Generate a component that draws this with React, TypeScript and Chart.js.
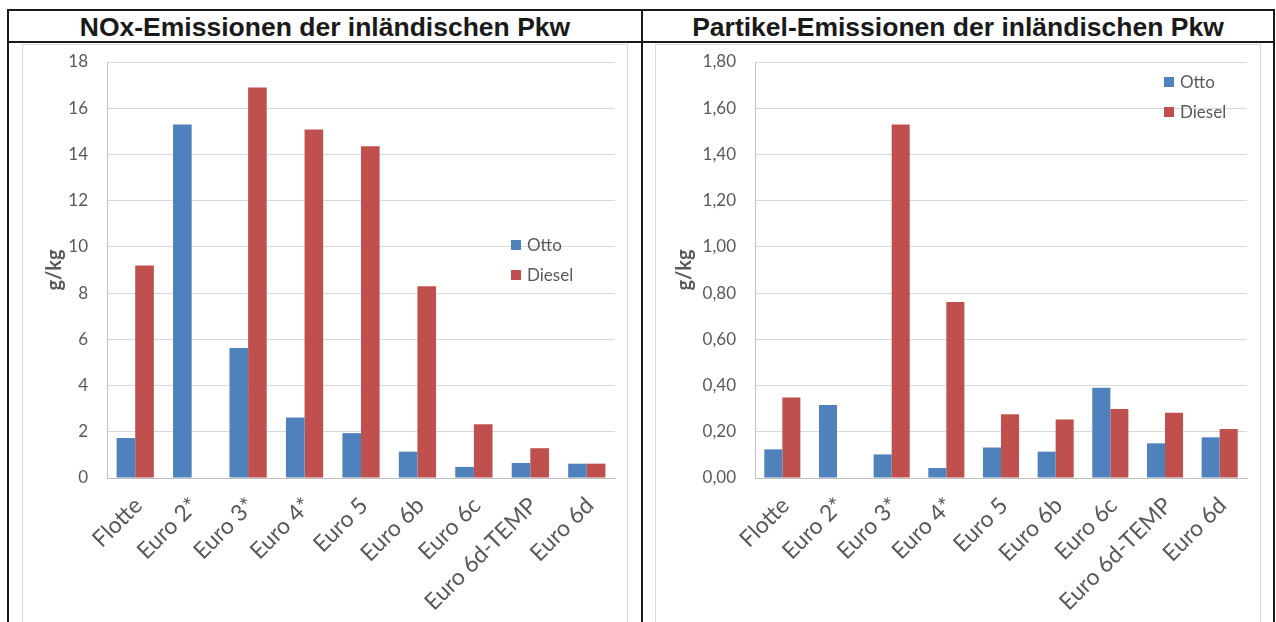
import React, { useEffect, useRef } from "react";
import { Chart, registerables } from "chart.js";

Chart.register(...registerables);

// ---------- data ----------
const categories = [
  "Flotte",
  "Euro 2*",
  "Euro 3*",
  "Euro 4*",
  "Euro 5",
  "Euro 6b",
  "Euro 6c",
  "Euro 6d-TEMP",
  "Euro 6d",
];
const seriesNames = ["Otto", "Diesel"];

const noxOtto = [1.73, 15.3, 5.62, 2.62, 1.94, 1.14, 0.48, 0.65, 0.62];
const noxDiesel = [9.2, null, 16.9, 15.08, 14.35, 8.3, 2.33, 1.29, 0.62];

const pmOtto = [0.124, 0.316, 0.102, 0.043, 0.132, 0.114, 0.391, 0.15, 0.176];
const pmDiesel = [0.348, null, 1.53, 0.761, 0.276, 0.253, 0.299, 0.282, 0.212];

const noxAxis = { max: 18, step: 2, decimals: 0 };
const pmAxis = { max: 1.8, step: 0.2, decimals: 2 };

const titles = [
  "NOx-Emissionen der inländischen Pkw",
  "Partikel-Emissionen der inländischen Pkw",
];
const unitLabel = "g/kg";

// ---------- styling ----------
const OTTO = "#4F81BD";
const DIESEL = "#C0504D";
const TEXT = "#595959";
const GRID = "#D9D9D9";
const AXIS = "#BFBFBF";
const FONT = "Lato, 'Open Sans', sans-serif";

const insideLegend = {
  id: "insideLegend",
  afterDraw(chart: any, _args: any, opts: any) {
    const ctx = chart.ctx;
    ctx.save();
    ctx.font = `${opts.size}px ${FONT}`;
    ctx.textBaseline = "middle";
    ctx.textAlign = "left";
    chart.data.datasets.forEach((ds: any, i: number) => {
      const y = opts.y + i * opts.gap;
      ctx.fillStyle = ds.backgroundColor;
      ctx.fillRect(opts.x, y, opts.box, opts.box);
      ctx.fillStyle = TEXT;
      ctx.fillText(ds.label, opts.x + opts.box + opts.spacing, y + opts.box / 2 + 1);
    });
    ctx.restore();
  },
};

type PanelProps = {
  otto: (number | null)[];
  diesel: (number | null)[];
  axis: { max: number; step: number; decimals: number };
  yWidth: number;
  padRight: number;
  titlePad: number;
  legend: { x: number; y: number };
};

const CW = 604;
const CH = 577;

function Panel(p: PanelProps) {
  const ref = useRef<HTMLCanvasElement | null>(null);
  useEffect(() => {
    if (!ref.current) return;
    const chart = new Chart(ref.current, {
      type: "bar",
      data: {
        labels: categories,
        datasets: [
          {
            label: seriesNames[0],
            data: p.otto,
            backgroundColor: OTTO,
            categoryPercentage: 0.66,
            barPercentage: 1.0,
          },
          {
            label: seriesNames[1],
            data: p.diesel,
            backgroundColor: DIESEL,
            categoryPercentage: 0.66,
            barPercentage: 1.0,
          },
        ] as any,
      },
      options: {
        animation: false,
        responsive: false,
        devicePixelRatio: 1,
        layout: { padding: { top: 17, right: p.padRight, left: 0, bottom: 0 } },
        plugins: {
          legend: { display: false },
          tooltip: { enabled: false },
          insideLegend: { x: p.legend.x, y: p.legend.y, gap: 30, box: 10, spacing: 6, size: 17 },
        } as any,
        scales: {
          x: {
            grid: { display: false, drawTicks: false },
            border: { display: true, color: AXIS, width: 1 },
            ticks: {
              color: TEXT,
              font: { family: FONT, size: 23 },
              maxRotation: 45,
              minRotation: 45,
              padding: 14,
              labelOffset: 3,
              autoSkip: false,
            },
            afterFit: (s: any) => {
              s.height = CH - 433;
            },
          },
          y: {
            min: 0,
            max: p.axis.max,
            grid: { color: GRID, lineWidth: 1, drawTicks: false },
            border: { display: true, color: AXIS, width: 1 },
            ticks: {
              stepSize: p.axis.step,
              color: TEXT,
              padding: 19,
              font: { family: FONT, size: 17 },
              callback: (v: any) => Number(v).toFixed(p.axis.decimals).replace(".", ","),
            },
            title: {
              display: true,
              text: unitLabel,
              color: TEXT,
              font: { family: FONT, size: 20, weight: "bold" },
              padding: { top: p.titlePad, bottom: 0 },
            },
            afterFit: (s: any) => {
              s.width = p.yWidth;
              s.paddingTop = 0;
              s.paddingBottom = 0;
            },
          },
        },
      },
      plugins: [insideLegend as any],
    });
    return () => chart.destroy();
  }, []);
  return <canvas ref={ref} width={CW} height={CH} style={{ display: "block" }} />;
}

const line = (l: number, t: number, w: number, h: number) => (
  <div style={{ position: "absolute", left: l, top: t, width: w, height: h, background: "#1a1a1a" }} />
);

const titleStyle = (l: number, w: number): React.CSSProperties => ({
  position: "absolute",
  left: l,
  top: 12,
  width: w,
  height: 30,
  display: "flex",
  alignItems: "center",
  justifyContent: "center",
  fontFamily: "'Liberation Sans', Arial, sans-serif",
  fontWeight: "bold",
  fontSize: 26.5,
  color: "#1a1a1a",
  whiteSpace: "nowrap",
});

const boxStyle = (l: number): React.CSSProperties => ({
  position: "absolute",
  left: l,
  top: 44,
  width: 606,
  height: 600,
  border: "1px solid #D9D9D9",
  boxSizing: "border-box",
  background: "#fff",
});

export default function App() {
  return (
    <div
      style={{
        position: "absolute",
        left: 0,
        top: 0,
        width: 1276,
        height: 622,
        overflow: "hidden",
        background: "#fff",
      }}
    >
      <div style={titleStyle(9, 632)}>{titles[0]}</div>
      <div style={titleStyle(643, 630)}>{titles[1]}</div>
      <div style={boxStyle(22)}>
        <Panel
          otto={noxOtto}
          diesel={noxDiesel}
          axis={noxAxis}
          yWidth={84}
          padRight={12}
          titlePad={20}
          legend={{ x: 488, y: 195 }}
        />
      </div>
      <div style={boxStyle(655)}>
        <Panel
          otto={pmOtto}
          diesel={pmDiesel}
          axis={pmAxis}
          yWidth={99}
          padRight={13}
          titlePad={17}
          legend={{ x: 508, y: 32 }}
        />
      </div>
      {line(7, 9, 1268, 2)}
      {line(7, 41, 1268, 2)}
      {line(7, 9, 2, 613)}
      {line(641, 9, 2, 613)}
      {line(1273, 9, 2, 613)}
    </div>
  );
}
